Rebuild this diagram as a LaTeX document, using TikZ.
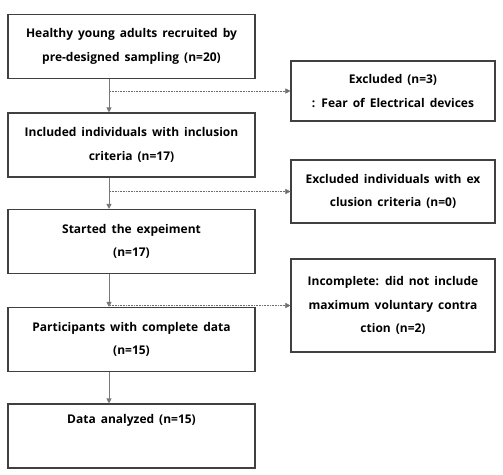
\documentclass[tikz,border=0pt]{standalone}
\usepackage{fontspec}
\setmainfont{Open Sans}[WordSpace=1.6]
\definecolor{boxgray}{RGB}{64,64,64}
\definecolor{linegray}{RGB}{120,120,120}
\definecolor{dotgray}{RGB}{110,110,110}
\usetikzlibrary{calc, positioning, arrows.meta}

\begin{document}
\begin{tikzpicture}[x=1pt, y=-1pt,
    stage/.style={draw=boxgray, line width=1.1pt, minimum width=247pt,
        minimum height=64pt, align=center, inner sep=0pt,
        font=\bfseries\fontsize{12}{23.5}\selectfont},
    dropout/.style={stage, minimum width=204pt},
    flow/.style={-{Triangle[length=5pt,width=5pt]}, line width=0.8pt, linegray},
    branch/.style={-{Triangle[length=5pt,width=5pt]}, line width=0.5pt, dotgray,
        dash pattern=on 1pt off 0.6pt}]
  \useasboundingbox (0,0) rectangle (503,474);

  % main column
  \node[stage] (recruit) at (131.5,46.5) {Healthy young adults recruited by\\pre-designed sampling (n=20)};
  \node[stage] (included) at (131.5,145) {Included individuals with inclusion\\criteria (n=17)};
  \node[stage] (started) at (131.5,241.5) {Started the expeiment\\(n=17)};
  \node[stage] (complete) at (131.5,339.5) {Participants with complete data\\(n=15)};
  \node[stage, minimum height=64pt, text depth=34pt] (analyzed) at (131.5,436) {Data analyzed (n=15)};

  % dropouts
  \node[dropout, minimum height=60pt] (excl1) at (393,91) {Excluded (n=3)\\: Fear of Electrical devices};
  \node[dropout, minimum height=63pt] (excl2) at (393,191.5) {Excluded individuals with ex\\clusion criteria (n=0)};
  \node[dropout, minimum height=93pt] (incompl) at (393,305.5) {Incomplete: did not include\\maximum voluntary contra\\ction (n=2)};

  \coordinate (spine) at (109,0);
  \draw[flow] (recruit.south -| spine) -- (included.north -| spine);
  \draw[flow] (included.south -| spine) -- (started.north -| spine);
  \draw[flow] (started.south -| spine) -- (complete.north -| spine);
  \draw[flow] (complete.south -| spine) -- (analyzed.north -| spine);

  % branches to the right
  \draw[branch] ($(spine |- excl1.west)+(1,0)$) -- (excl1.west);
  \draw[branch] ($(spine |- excl2.west)+(1,0)$) -- (excl2.west);
  \draw[branch] ($(spine |- incompl.west)+(1,0)$) -- (incompl.west);
\end{tikzpicture}
\end{document}
